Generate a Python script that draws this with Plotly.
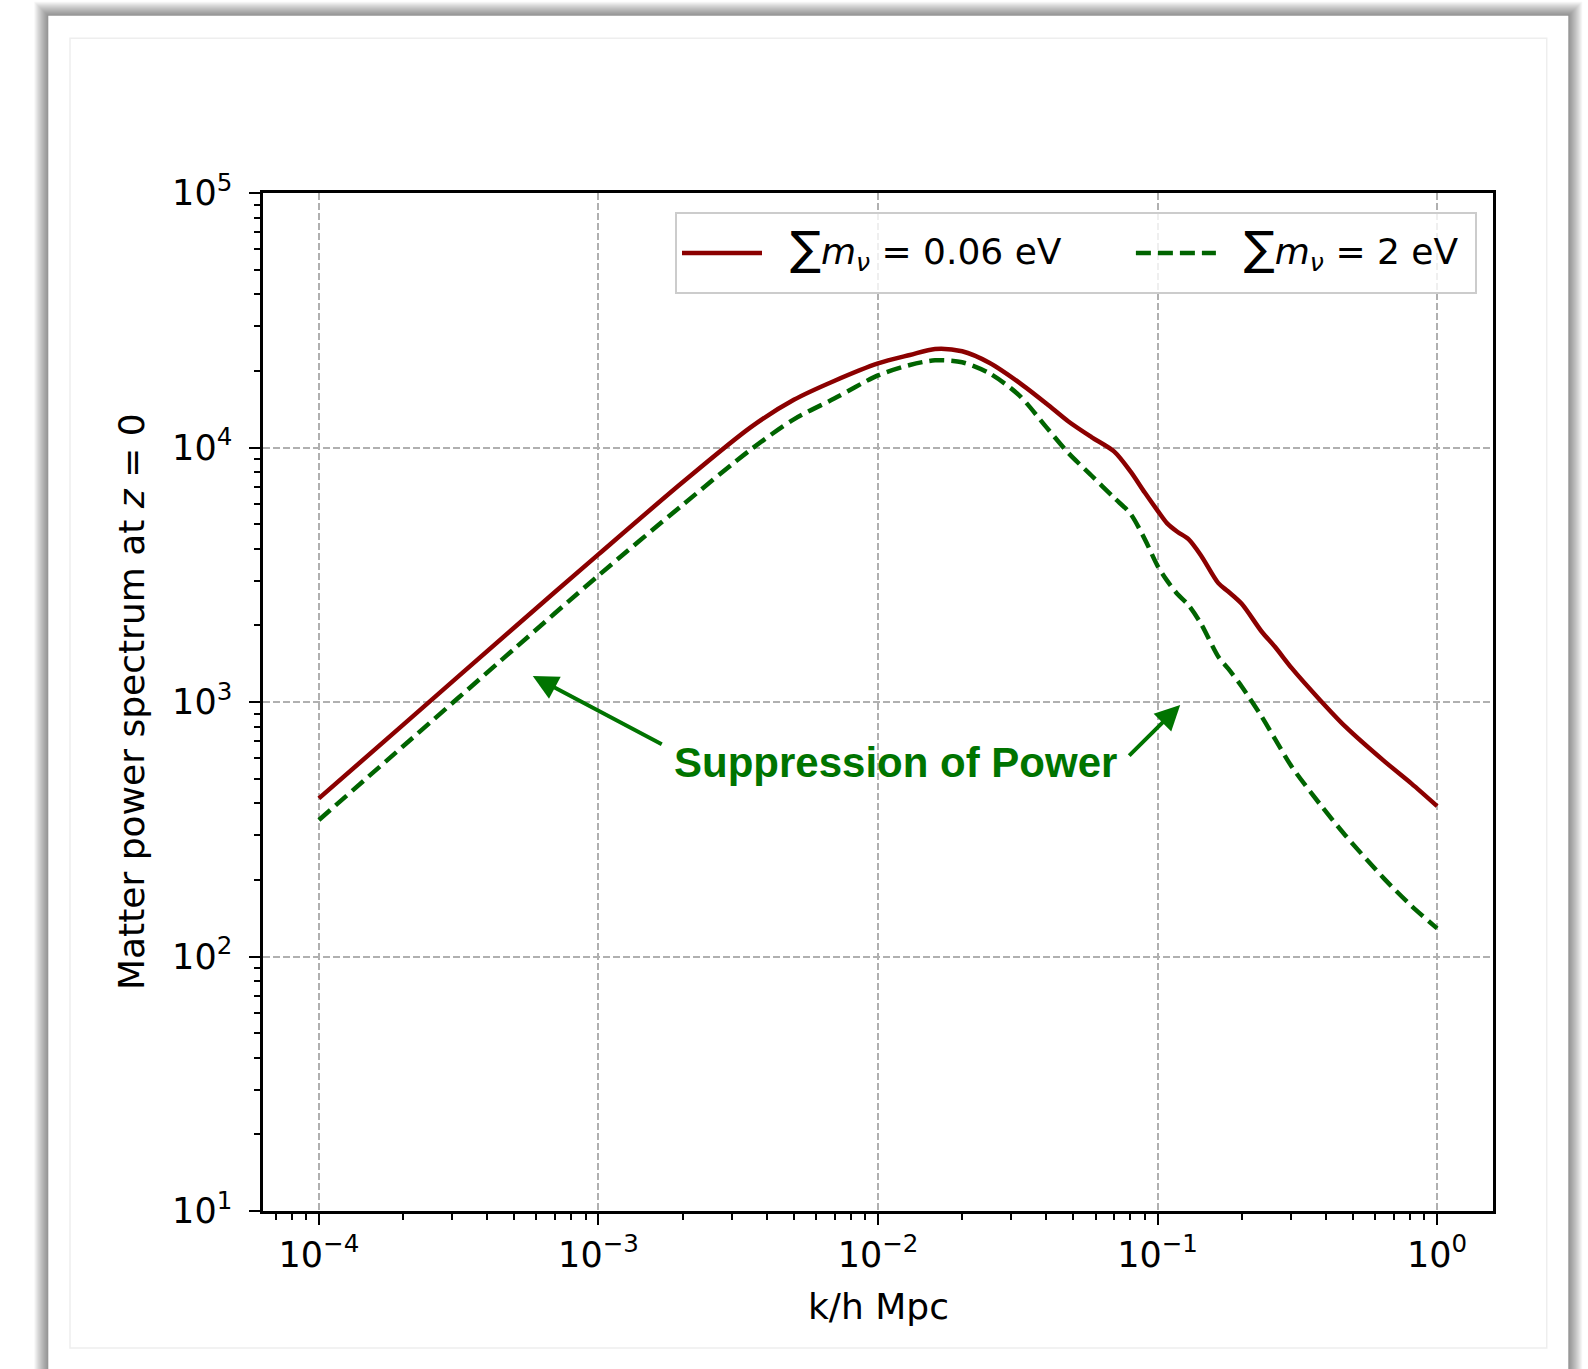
import plotly.graph_objects as go

# ---------------- data ----------------
k_values = [1.0e-4, 2.0e-4, 5.0e-4, 1.0e-3, 2.0e-3, 3.5e-3, 5.0e-3, 7.0e-3,
            1.0e-2, 1.3e-2, 1.6e-2, 2.0e-2, 2.5e-2, 3.2e-2, 4.0e-2, 4.8e-2,
            5.8e-2, 7.0e-2, 8.0e-2, 9.0e-2, 0.100, 0.108, 0.118, 0.129,
            0.143, 0.165, 0.179, 0.200, 0.236, 0.263, 0.302, 0.381,
            0.47, 0.65, 0.81, 1.0]

pk_light = [418, 813, 1963, 3802, 7300, 12000, 15400, 18300,
            21400, 23100, 24400, 23880, 21530, 17990, 14890, 12650,
            10990, 9638, 8054, 6653, 5649, 5047, 4656, 4365,
            3767, 2931, 2716, 2432, 1888, 1648, 1358, 1019,
            800, 583, 478, 390]

pk_heavy = [344, 670, 1618, 3141, 5950, 9800, 12900, 15600,
            19200, 21100, 22000, 21630, 19590, 16030, 12020, 9506,
            7762, 6339, 5495, 4365, 3428, 3006, 2649, 2404,
            2032, 1507, 1352, 1151, 875, 716, 557, 397,
            299, 201, 158, 129]

SIGMA = '<span style="font-size:46px">∑</span>'
SPAN_OPEN = '<span style="font-size:36px;baseline-shift:9px">'
name_light = (SPAN_OPEN + '\u00a0\u00a0' + SIGMA +
              '<i>m</i><sub><i>ν</i></sub> = 0.06 eV' + '\u00a0' * 5 + '\u2009</span>')
name_heavy = (SPAN_OPEN + '\u00a0\u00a0' + SIGMA +
              '<i>m</i><sub><i>ν</i></sub> = 2 eV\u00a0</span>')

x_tick_vals = [1e-4, 1e-3, 1e-2, 1e-1, 1e0]
x_tick_text = ['10<sup>−4</sup>', '10<sup>−3</sup>', '10<sup>−2</sup>', '10<sup>−1</sup>', '10<sup>0</sup>']
y_tick_vals = [1e1, 1e2, 1e3, 1e4, 1e5]
y_tick_text = ['10<sup>1</sup>', '10<sup>2</sup>', '10<sup>3</sup>', '10<sup>4</sup>', '10<sup>5</sup>']

x_label = 'k/h Mpc'
y_label = 'Matter power spectrum at <i>z</i> = 0'
note_text = '<b>Suppression of Power</b>'

# ---------------- layout geometry ----------------
W, H = 1588, 1369
PL, PR, PT, PB = 263, 1493, 193, 1211


def fx(px):
    return (px - PL) / (PR - PL)


def fy(py):
    return (PB - py) / (PB - PT)


minor_x = [m * 10.0 ** e for e in range(-5, 1) for m in range(2, 10)
           if 10 ** -4.2 <= m * 10.0 ** e <= 10 ** 0.2]
minor_y = [m * 10.0 ** e for e in range(1, 5) for m in range(2, 10)]

RED = '#8b0000'
GREEN = '#006400'
NOTE_GREEN = '#007400'

fig = go.Figure()
fig.add_trace(go.Scatter(x=k_values, y=pk_light, mode='lines', name=name_light,
                         line=dict(color=RED, width=4.5, shape='spline', smoothing=0.8)))
fig.add_trace(go.Scatter(x=k_values, y=pk_heavy, mode='lines', name=name_heavy,
                         line=dict(color=GREEN, width=4.5, dash='15px,7px',
                                   shape='spline', smoothing=0.8)))

axis_common = dict(
    type='log', showline=True, linecolor='black', linewidth=2.5, mirror=True,
    ticks='outside', ticklen=11, tickwidth=2, tickcolor='black',
    showgrid=True, gridcolor='#b0b0b0', gridwidth=1.5, griddash='7px,3px',
    zeroline=False, tickfont=dict(family='DejaVu Sans', size=35, color='black'),
)

fig.update_xaxes(range=[-4.2, 0.2], tickmode='array', tickvals=x_tick_vals,
                 ticktext=x_tick_text, ticklabelstandoff=0,
                 minor=dict(tickmode='array', tickvals=minor_x, ticks='outside',
                            ticklen=6, tickwidth=1.5, tickcolor='black', showgrid=False),
                 **axis_common)
fig.update_yaxes(range=[1, 5], tickmode='array', tickvals=y_tick_vals,
                 ticktext=y_tick_text, ticklabelstandoff=10,
                 minor=dict(tickmode='array', tickvals=minor_y, ticks='outside',
                            ticklen=6, tickwidth=1.5, tickcolor='black', showgrid=False),
                 **axis_common)

# card-with-shadow frame
shapes = []
cx0, cy0, cx1, cy1 = 48.3, 15.7, 1568.3, 1400
for d in range(14, 0, -1):
    shapes.append(dict(type='rect', xref='paper', yref='paper', layer='below',
                       x0=fx(cx0 - d), x1=fx(cx1 + d), y0=fy(cy1), y1=fy(cy0 - d),
                       fillcolor='rgba(0,0,0,0.035)', line=dict(width=0)))
shapes.append(dict(type='rect', xref='paper', yref='paper', layer='below',
                   x0=fx(cx0), x1=fx(cx1), y0=fy(cy1), y1=fy(cy0),
                   fillcolor='white', line=dict(width=0)))
shapes.append(dict(type='rect', xref='paper', yref='paper', layer='below',
                   x0=fx(70), x1=fx(1546.7), y0=fy(1348), y1=fy(38.3),
                   fillcolor='rgba(0,0,0,0)', line=dict(color='#eeeeee', width=1.5)))

annotations = [
    dict(text=y_label, xref='paper', yref='paper', x=fx(131), y=0.5, textangle=-90,
         showarrow=False, xanchor='center', yanchor='middle',
         font=dict(family='DejaVu Sans', size=36, color='black')),
    dict(text=x_label, xref='paper', yref='paper', x=0.5, y=fy(1306.5),
         showarrow=False, xanchor='center', yanchor='middle',
         font=dict(family='DejaVu Sans', size=36, color='black')),
    dict(text=note_text, xref='paper', yref='paper', x=fx(895), y=fy(762),
         showarrow=False, xanchor='center', yanchor='middle',
         font=dict(family='Liberation Sans', size=42, color=NOTE_GREEN)),
    dict(text='', x=-3.235, y=3.102, xref='x', yref='y', ax=130.5, ay=69,
         showarrow=True, arrowhead=2, arrowsize=1.25, arrowwidth=4, arrowcolor=NOTE_GREEN),
    dict(text='', x=-0.919, y=2.988, xref='x', yref='y', ax=-52.5, ay=52,
         showarrow=True, arrowhead=2, arrowsize=1.25, arrowwidth=4, arrowcolor=NOTE_GREEN),
]

fig.update_layout(
    width=W, height=H,
    margin=dict(l=PL, r=W - PR, t=PT, b=H - PB, pad=0),
    paper_bgcolor='white', plot_bgcolor='rgba(0,0,0,0)',
    showlegend=True,
    legend=dict(orientation='h', x=fx(675), y=fy(212), xanchor='left', yanchor='top',
                bgcolor='rgba(255,255,255,0.8)', bordercolor='#cccccc', borderwidth=2,
                font=dict(family='DejaVu Sans', size=50, color='black'),
                itemwidth=80),
    shapes=shapes,
    annotations=annotations,
)

fig.write_html('out.html', config={'displayModeBar': False},
               post_script="document.body.style.margin='0';document.body.style.overflow='hidden';")
